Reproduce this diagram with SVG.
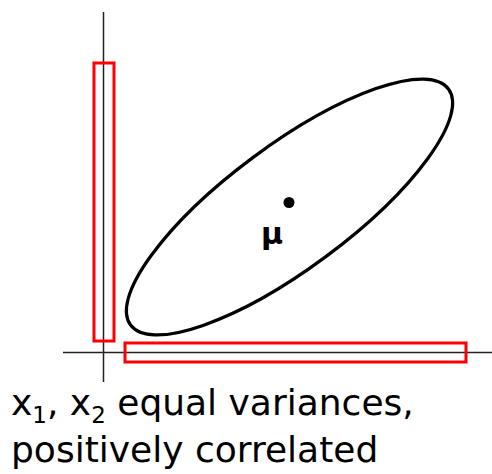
<svg xmlns="http://www.w3.org/2000/svg" width="492" height="474" viewBox="0 0 492 474">
<style>
.axis{stroke:#222;stroke-width:1.5;fill:none}
.box{stroke:#ff0000;stroke-width:3;fill:none}
.cap{font-family:"DejaVu Sans","Liberation Sans",sans-serif;font-size:36px;fill:#000}
.sub{font-size:23px}
</style>
<rect width="492" height="474" fill="#fff"/>
<g id="axes">
<line class="axis" x1="103.5" y1="12" x2="103.5" y2="382"/>
<line class="axis" x1="63" y1="352.5" x2="492" y2="352.5"/>
</g>
<g id="marginal-x2">
<rect class="box" x="94" y="63" width="20" height="278"/>
</g>
<g id="marginal-x1">
<rect class="box" x="125" y="343" width="341" height="19"/>
</g>
<g id="ellipse">
<ellipse cx="289.5" cy="207" rx="198" ry="61.5" transform="rotate(-36.6 289.5 207)" fill="none" stroke="#000" stroke-width="3.2"/>
</g>
<g id="mean">
<circle cx="289" cy="202.5" r="5.5" fill="#000"/>
<text x="272" y="244" text-anchor="middle" font-family="DejaVu Sans, sans-serif" font-size="30" font-weight="bold">μ</text>
</g>
<g id="caption">
<text class="cap" x="11" y="415">x<tspan class="sub" dy="8">1</tspan><tspan dy="-8">, x</tspan><tspan class="sub" dy="8">2</tspan><tspan dy="-8"> equal variances,</tspan></text>
<text class="cap" x="11" y="462">positively correlated</text>
</g>
</svg>
